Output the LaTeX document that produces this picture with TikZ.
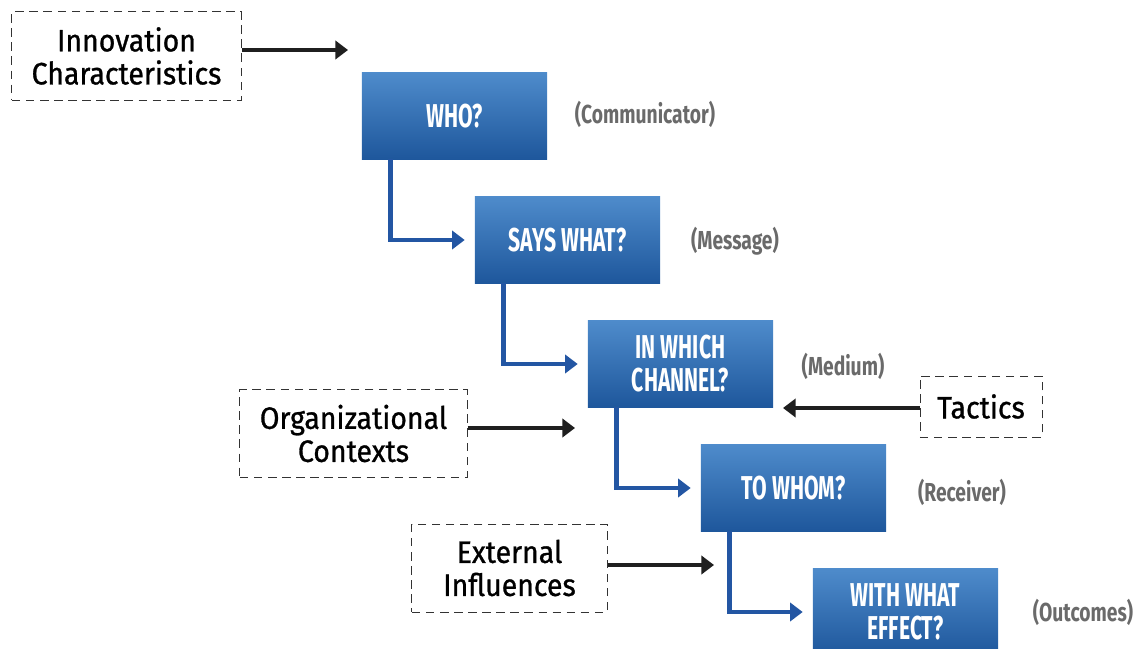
\documentclass[tikz,border=0pt]{standalone}
\usepackage{fontspec}
\setmainfont{Fira Sans}
\newfontfamily\hopfont[FakeStretch=0.64]{Fira Sans}
\newfontfamily\nhanfont[FakeStretch=0.74]{Fira Sans}
\newfontfamily\khungfont[FakeStretch=0.92,FakeBold=0.9]{Fira Sans}
\usetikzlibrary{arrows.meta}
\definecolor{xanhtren}{HTML}{4E8BCB}
\definecolor{xanhgiua}{HTML}{1F74BE}
\definecolor{xanhduoi}{HTML}{1E579C}
\definecolor{xanhnoi}{HTML}{2356A3}
\definecolor{xamchu}{HTML}{6A6A6A}
\begin{document}
\begin{tikzpicture}[x=0.025cm, y=-0.025cm,
    hop/.style={minimum width=4.625cm, minimum height=2.15cm, inner sep=0pt,
        top color=xanhtren, middle color=xanhgiua, bottom color=xanhduoi,
        text=white, align=center,
        font=\hopfont\bfseries\fontsize{23.5}{23.5}\selectfont},
    khung/.style={draw=black!80, dash pattern=on 6pt off 4pt, line width=0.7pt,
        inner sep=0pt, align=center,
        font=\khungfont\fontsize{22}{23.5}\selectfont},
    nhan/.style={text=xamchu, font=\nhanfont\bfseries\fontsize{18.5}{19}\selectfont},
    noi/.style={draw=xanhnoi, line width=3.3pt, -{Triangle[length=9pt,width=13pt]}},
    day/.style={draw=black!88, line width=3.1pt, -{Triangle[length=9pt,width=13pt]}}]
    \useasboundingbox (0,0) rectangle (1136,649);

    % Các bước của mô hình
    \node[hop] (who) at (454.5,116) {WHO?};
    \node[hop] (says) at (567.5,240) {SAYS WHAT?};
    \node[hop] (channel) at (680.5,364) {IN WHICH\\CHANNEL?};
    \node[hop] (whom) at (793.5,488) {TO WHOM?};
    \node[hop] (effect) at (905.5,612) {WITH WHAT\\EFFECT?};

    % Chú thích bên phải
    \node[nhan] (comm) at (645,114) {(Communicator)};
    \node[nhan] (mess) at (735,241) {(Message)};
    \node[nhan] (medium) at (843,366) {(Medium)};
    \node[nhan] (recv) at (962,492) {(Receiver)};
    \node[nhan] (outc) at (1083,612) {(Outcomes)};

    % Các yếu tố tác động
    \node[khung, minimum width=5.725cm, minimum height=2.2cm] (innov) at (126.5,56) {Innovation\\Characteristics};
    \node[khung, minimum width=5.675cm, minimum height=2.175cm] (org) at (353.5,433.5) {Organizational\\Contexts};
    \node[khung, minimum width=3.05cm, minimum height=1.525cm] (tact) at (981,406.5) {Tactics};
    \node[khung, minimum width=4.875cm, minimum height=2.2cm] (ext) at (509.5,568) {External\\Influences};

    % Mũi tên nối các bước
    \foreach \a/\b in {who/says, says/channel, channel/whom, whom/effect} {
        \draw[noi] ([xshift=0.725cm]\a.south west) |- ([xshift=-0.25cm]\b.west);
    }

    % Mũi tên từ các yếu tố
    \coordinate (innovtip) at (348,50);
    \coordinate (orgtip) at (575,428);
    \coordinate (tacttip) at (783,408);
    \coordinate (exttip) at (714,565);
    \draw[day] (innov.east |- innovtip) -- (innovtip);
    \draw[day] (org.east |- orgtip) -- (orgtip);
    \draw[day] (tact.west |- tacttip) -- (tacttip);
    \draw[day] (ext.east |- exttip) -- (exttip);
\end{tikzpicture}
\end{document}
